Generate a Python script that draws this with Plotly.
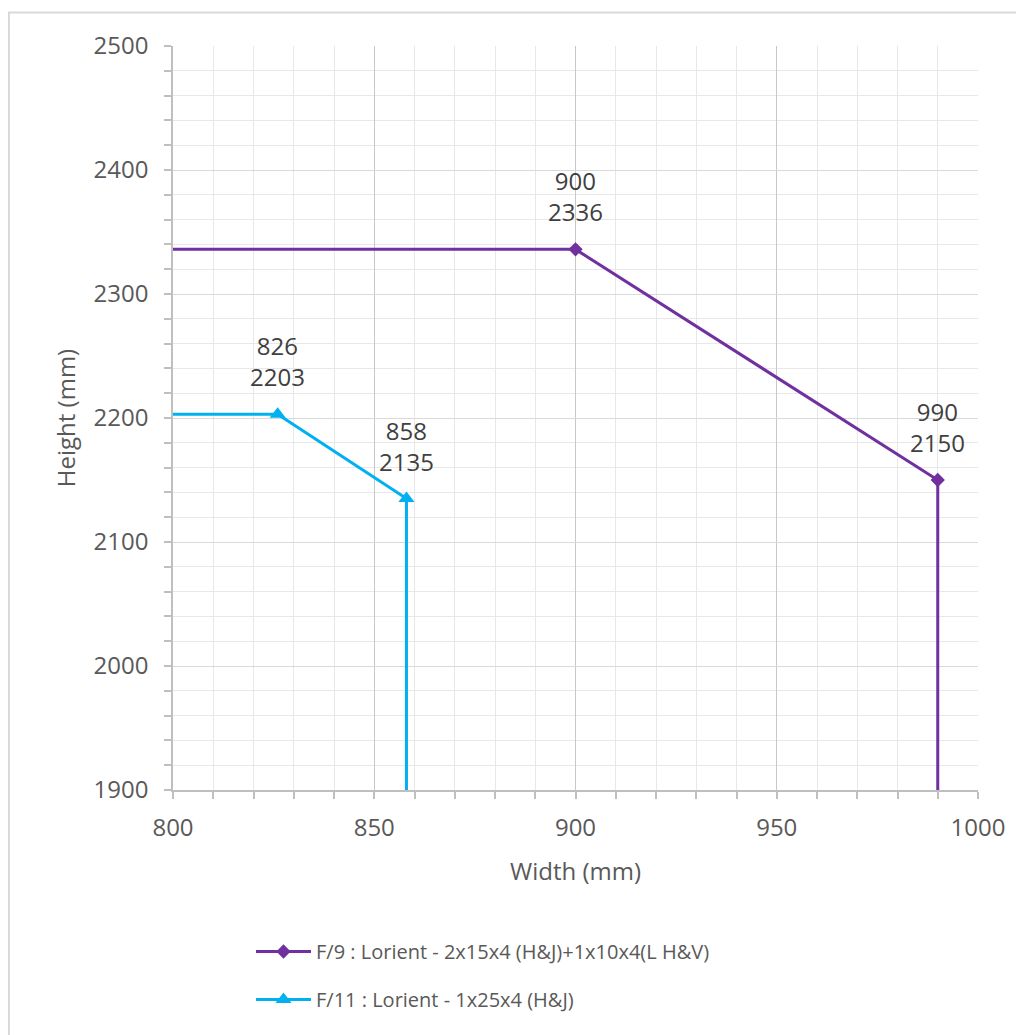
import plotly.graph_objects as go

# Data
f9_x = [0, 900, 990, 990]
f9_y = [2336, 2336, 2150, 0]
f9_labeled = [False, True, True, False]
f9_name = "F/9 : Lorient - 2x15x4 (H&J)+1x10x4(L H&V)"

f11_x = [0, 826, 858, 858]
f11_y = [2203, 2203, 2135, 0]
f11_labeled = [False, True, True, False]
f11_name = "F/11 : Lorient - 1x25x4 (H&J)"

x_title = "Width (mm)"
y_title = "Height (mm)"

FONT = "Open Sans"
TXT = "#595959"

fig = go.Figure()
fig.add_trace(go.Scatter(
    x=f9_x, y=f9_y, mode="lines+markers", name=f9_name,
    line=dict(color="#7030A0", width=3),
    marker=dict(symbol="diamond", size=11, color="#7030A0"),
    legendgroup="a",
))
fig.add_trace(go.Scatter(
    x=f11_x, y=f11_y, mode="lines+markers", name=f11_name,
    line=dict(color="#00B0F0", width=3),
    marker=dict(symbol="triangle-up", size=14, color="#00B0F0"),
    legendgroup="b",
))

annotations = []
for xs, ys, mask in [(f9_x, f9_y, f9_labeled), (f11_x, f11_y, f11_labeled)]:
    for x, y, m in zip(xs, ys, mask):
        if m:
            annotations.append(dict(
                x=x, y=y, xref="x", yref="y", text=f"{x}<br>{y}",
                showarrow=False, xanchor="center", yanchor="bottom", yshift=19,
                font=dict(family=FONT, size=24, color="#404040"),
            ))

W, H = 1024, 1035
OFF = 8  # page body offset
L, R, T, B = 165, 54, 38, 253
pw, ph = W - L - R, H - T - B

def px2paper_x(px):
    return (px - OFF - L) / pw

def px2paper_y(py):
    return (H - B - (py - OFF)) / ph

fig.update_layout(
    width=W, height=H,
    margin=dict(l=L, r=R, t=T, b=B, pad=0),
    paper_bgcolor="white", plot_bgcolor="white",
    font=dict(family=FONT, color=TXT),
    showlegend=True,
    annotations=annotations,
    legend=dict(
        x=px2paper_x(251), y=px2paper_y(932), xanchor="left", yanchor="top",
        xref="paper", yref="paper",
        font=dict(family=FONT, size=20, color=TXT),
        traceorder="grouped", tracegroupgap=19, itemwidth=55,
        bgcolor="rgba(0,0,0,0)",
    ),
    shapes=[dict(
        type="rect", xref="paper", yref="paper",
        x0=px2paper_x(9), x1=px2paper_x(1060),
        y0=px2paper_y(1070), y1=px2paper_y(12.5),
        line=dict(color="#d9d9d9", width=2), fillcolor="rgba(0,0,0,0)",
        layer="below",
    )],
)

fig.update_xaxes(
    range=[800, 1000], dtick=50, tick0=800,
    showgrid=True, gridcolor="#c8c8c8", gridwidth=1.2,
    showline=True, linecolor="#bfbfbf", linewidth=1.5,
    ticks="outside", ticklen=7, tickcolor="#bfbfbf", tickwidth=1.5,
    tickfont=dict(family=FONT, size=24, color=TXT),
    ticklabelstandoff=8,
    minor=dict(dtick=10, showgrid=True, gridcolor="#e8e8e8", gridwidth=1,
               ticks="outside", ticklen=7, tickcolor="#bfbfbf", tickwidth=1.5),
    title=dict(text=x_title, font=dict(family=FONT, size=24, color=TXT), standoff=22),
    zeroline=False,
)
fig.update_yaxes(
    range=[1900, 2500], dtick=100, tick0=1900,
    showgrid=True, gridcolor="#d9d9d9", gridwidth=1.2,
    showline=True, linecolor="#bfbfbf", linewidth=1.5,
    ticks="outside", ticklen=7, tickcolor="#bfbfbf", tickwidth=1.5,
    tickfont=dict(family=FONT, size=24, color=TXT),
    ticklabelstandoff=11,
    minor=dict(dtick=20, showgrid=True, gridcolor="#e8e8e8", gridwidth=1,
               ticks="outside", ticklen=7, tickcolor="#bfbfbf", tickwidth=1.5),
    title=dict(text=y_title, font=dict(family=FONT, size=24, color=TXT), standoff=11),
    zeroline=False,
)

fig.write_html("out.html")
